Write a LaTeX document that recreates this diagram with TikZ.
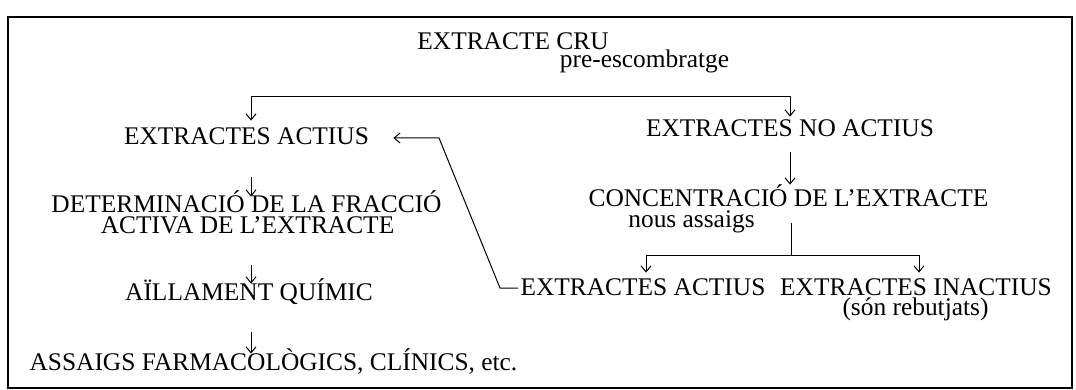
\documentclass[tikz,border=0pt]{standalone}
\usepackage{fontspec}
\setmainfont{Liberation Serif}
\usepackage{tikz}
\usetikzlibrary{arrows.meta, positioning}
\newcommand{\txtsize}{\fontsize{12.7}{15}\selectfont}
\tikzset{
  lbl/.style={inner sep=0pt, text height=8pt, text depth=1pt, anchor=base, font=\txtsize},
  flow/.style={-{Straight Barb[length=3pt,width=5pt]}, line width=0.5pt},
  fork/.style={{Straight Barb[length=3pt,width=5pt]}-{Straight Barb[length=3pt,width=5pt]}, line width=0.5pt},
}
\begin{document}
\begin{tikzpicture}[x=0.5pt, y=-0.5pt]
        \useasboundingbox (0,0) rectangle (1076,390);
        \draw[line width=1pt] (8,17) rectangle (1072,388);
        % top
        \node[lbl] (cru) at (513,50) {EXTRACTE CRU};
        \node[lbl] (pre) at (644.5,68) {pre-escombratge};
        % left column
        \node[lbl] (act) at (246.5,145) {EXTRACTES ACTIUS};
        \node[lbl] (det) at (246.5,213) {DETERMINACIÓ DE LA FRACCIÓ};
        \node[lbl] (det2) at (247.5,233) {ACTIVA DE L'EXTRACTE};
        \node[lbl] (ail) at (249,300) {AÏLLAMENT QUÍMIC};
        \node[lbl] (asg) at (273.5,370) {ASSAIGS FARMACOLÒGICS, CLÍNICS, etc.};
        % right column
        \node[lbl] (noact) at (790,137) {EXTRACTES NO ACTIUS};
        \node[lbl] (conc) at (788.5,206) {CONCENTRACIÓ DE L'EXTRACTE};
        \node[lbl] (nous) at (691.5,227) {nous assaigs};
        \node[lbl] (act2) at (643,295) {EXTRACTES ACTIUS};
        \node[lbl] (inact) at (916,295) {EXTRACTES INACTIUS};
        \node[lbl] (reb) at (915.5,315) {(són rebutjats)};
        % connectors
        \coordinate (colx) at (251,0);
        \coordinate (topl) at (251,97);
        \coordinate (topr) at (790,97);
        \draw[fork, shorten <=4pt, shorten >=2pt] (act.north -| topl) -- (topl) -- (topr) -- (noact.north -| topr);
        \foreach \a/\b in {act/det, det2/ail, ail/asg}
          \draw[flow, shorten <=15pt, shorten >=0pt] (\a.south -| colx) -- (\b.north -| colx);
        \draw[flow, shorten <=6.5pt, shorten >=2.5pt] (noact.south -| topr) -- (conc.north -| topr);
        \coordinate (forkc) at (791,255);
        \coordinate (forkl) at (646,255);
        \coordinate (forkr) at (919,255);
        \draw[line width=0.5pt, shorten <=7.5pt] (conc.south -| forkc) -- (forkc);
        \draw[fork, shorten <=3pt, shorten >=3pt] (act2.north -| forkl) -- (forkl) -- (forkr) -- (inact.north -| forkr);
        \coordinate (bendlo) at (500,288);
        \coordinate (bendhi) at (439,138);
        \draw[flow, shorten <=1pt, shorten >=12pt] (act2.west) -- (bendlo) -- (bendhi) -- (bendhi -| act.east);
      \end{tikzpicture}
\end{document}
